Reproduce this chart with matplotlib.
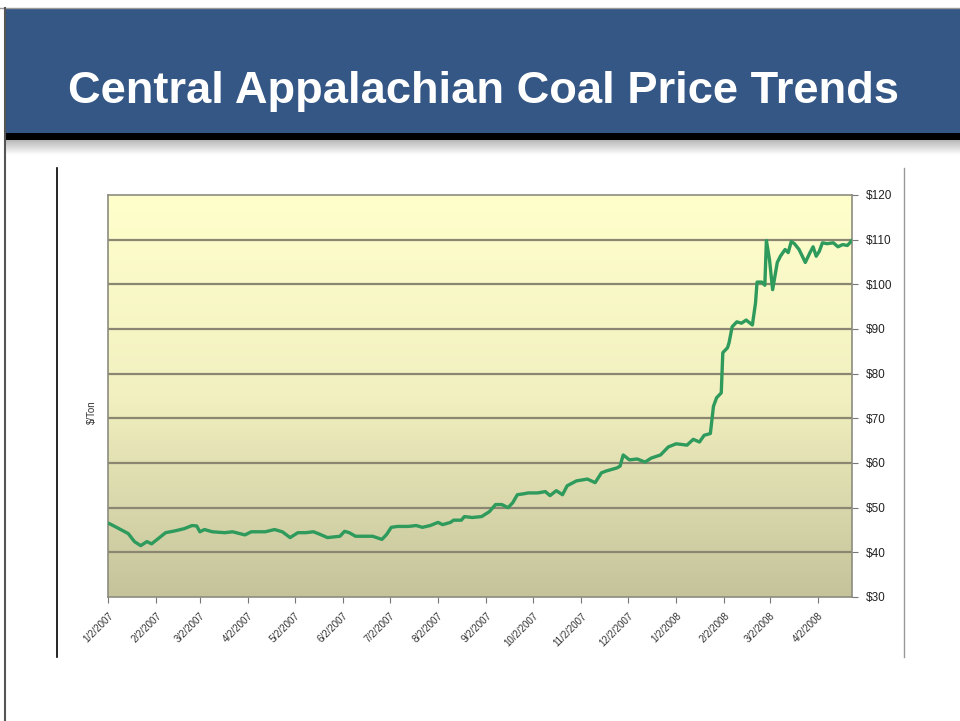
import datetime as dt
import numpy as np
import matplotlib
matplotlib.use("Agg")
import matplotlib.pyplot as plt
import matplotlib.dates as mdates
from matplotlib.patches import Rectangle

plt.rcParams['font.family'] = ['Liberation Sans', 'DejaVu Sans']

# data: days after 1/2/2007 and price in $/ton
start = dt.date(2007, 1, 2)
days = [1, 6, 13, 17, 21, 25, 28, 32, 37, 43, 49, 54, 57, 59, 62, 67, 75, 80,
        88, 92, 101, 107, 112, 117, 122, 127, 132, 135, 141, 149, 152, 155,
        159, 170, 176, 179, 182, 186, 193, 198, 202, 207, 212, 215, 220, 222,
        227, 229, 234, 240, 245, 249, 253, 257, 260, 263, 267, 270, 276, 281,
        284, 288, 292, 295, 301, 308, 313, 317, 320, 327, 329, 331, 335, 340,
        345, 349, 355, 360, 365, 372, 376, 380, 383, 387, 389, 391, 394, 395,
        398, 399, 401, 404, 407, 410, 414, 416, 417, 420, 422, 423, 425, 427,
        430, 432, 435, 437, 439, 441, 444, 448, 451, 453, 455, 457, 459, 462,
        466, 469, 472, 475, 478]
prices = [46.4, 45.5, 44.2, 42.4, 41.5, 42.4, 41.9, 43.0, 44.4, 44.8, 45.3,
          46.0, 45.9, 44.6, 45.1, 44.6, 44.4, 44.6, 43.9, 44.6, 44.6, 45.1,
          44.6, 43.3, 44.4, 44.4, 44.6, 44.2, 43.3, 43.6, 44.7, 44.4, 43.6,
          43.6, 42.9, 44.0, 45.6, 45.8, 45.8, 46.0, 45.6, 46.0, 46.7, 46.2,
          46.7, 47.2, 47.2, 48.0, 47.8, 48.0, 49.1, 50.7, 50.7, 50.0, 51.1,
          52.9, 53.1, 53.3, 53.3, 53.6, 52.7, 53.8, 52.9, 54.9, 56.0, 56.4,
          55.6, 57.8, 58.2, 58.9, 59.3, 61.8, 60.7, 60.9, 60.2, 61.1, 61.8,
          63.6, 64.3, 64.0, 65.3, 64.7, 66.2, 66.6, 72.7, 74.6, 75.7, 84.7,
          85.8, 86.9, 90.5, 91.6, 91.3, 92.0, 90.9, 95.8, 100.5, 100.5, 99.8,
          109.8, 105.5, 98.8, 104.9, 106.3, 107.8, 107.1, 109.6, 109.1, 107.8,
          104.9, 107.1, 108.4, 106.3, 107.4, 109.3, 109.1, 109.3, 108.4, 108.9,
          108.7, 109.8]
y_ticks = [30, 40, 50, 60, 70, 80, 90, 100, 110, 120]
tick_dates = [dt.date(2007 + (m - 1) // 12, (m - 1) % 12 + 1, 2) for m in range(1, 17)]

dates = [start + dt.timedelta(days=d) for d in days]

W, H = 960, 721
fig = plt.figure(figsize=(W / 100, H / 100), dpi=100)
fig.patch.set_facecolor('white')

# slide decoration drawn in pixel coordinates
bg = fig.add_axes([0, 0, 1, 1])
bg.set_xlim(0, W)
bg.set_ylim(H, 0)
bg.axis('off')
bg.add_patch(Rectangle((5, 9), W, 124, color='#355785', lw=0))
bg.add_patch(Rectangle((5, 133), W, 7, color='black', lw=0))
shade = np.linspace(0.72, 1.0, 40).reshape(-1, 1)
bg.imshow(shade, cmap='gray', vmin=0, vmax=1, extent=[5, W, 155, 140], aspect='auto')
bg.plot([0, W], [8, 8], color='#9a9a9a', lw=1)
bg.plot([5, 5], [8, H], color='#555555', lw=1.5)
bg.plot([57, 57], [168, 657], color='black', lw=1.2)
bg.plot([904, 904], [168, 657], color='#999999', lw=1)
bg.text(484, 92, 'Central Appalachian Coal Price Trends', color='white',
        fontsize=32.6, fontweight='bold', ha='center', va='center')
bg.text(92, 412, '$/Ton', fontsize=7, rotation=90, ha='center', va='center',
        color='#333333')

# chart
ax = fig.add_axes([108 / W, 1 - 597 / H, (852 - 108) / W, (597 - 195) / H])
x0 = mdates.date2num(dt.date(2007, 1, 2))
x1 = x0 + 478
grad = np.linspace(0, 1, 256).reshape(-1, 1)
cmap = matplotlib.colors.LinearSegmentedColormap.from_list(
    'bgfill', ['#ffffcc', '#f2f0c0', '#c4c39a'])
ax.imshow(grad, cmap=cmap, extent=[x0, x1, 30, 120], origin='upper',
          aspect='auto', zorder=0)

for v in y_ticks[1:-1]:
    ax.axhline(v, color='#8a8672', lw=1.6, zorder=1)

ax.plot(dates, prices, color='#2e9a5c', lw=2.4, zorder=3)

ax.set_xlim(x0, x1)
ax.set_ylim(30, 120)

ax.yaxis.tick_right()
ax.set_yticks(y_ticks)
ax.set_yticklabels(['$%d' % v for v in y_ticks], fontsize=8.5, color='#222222')
ax.set_xticks([mdates.date2num(d) for d in tick_dates])
ax.set_xticklabels(['%d/%d/%d' % (d.month, d.day, d.year) for d in tick_dates],
                   rotation=45, ha='right', rotation_mode='anchor',
                   fontsize=7, color='#333333')
ax.tick_params(axis='both', length=4, color='#777777')
ax.tick_params(axis='y', pad=6)
ax.tick_params(axis='x', pad=6)
for s in ax.spines.values():
    s.set_color('#8c8c80')
    s.set_linewidth(1.2)

fig.savefig('out.png', dpi=100)
